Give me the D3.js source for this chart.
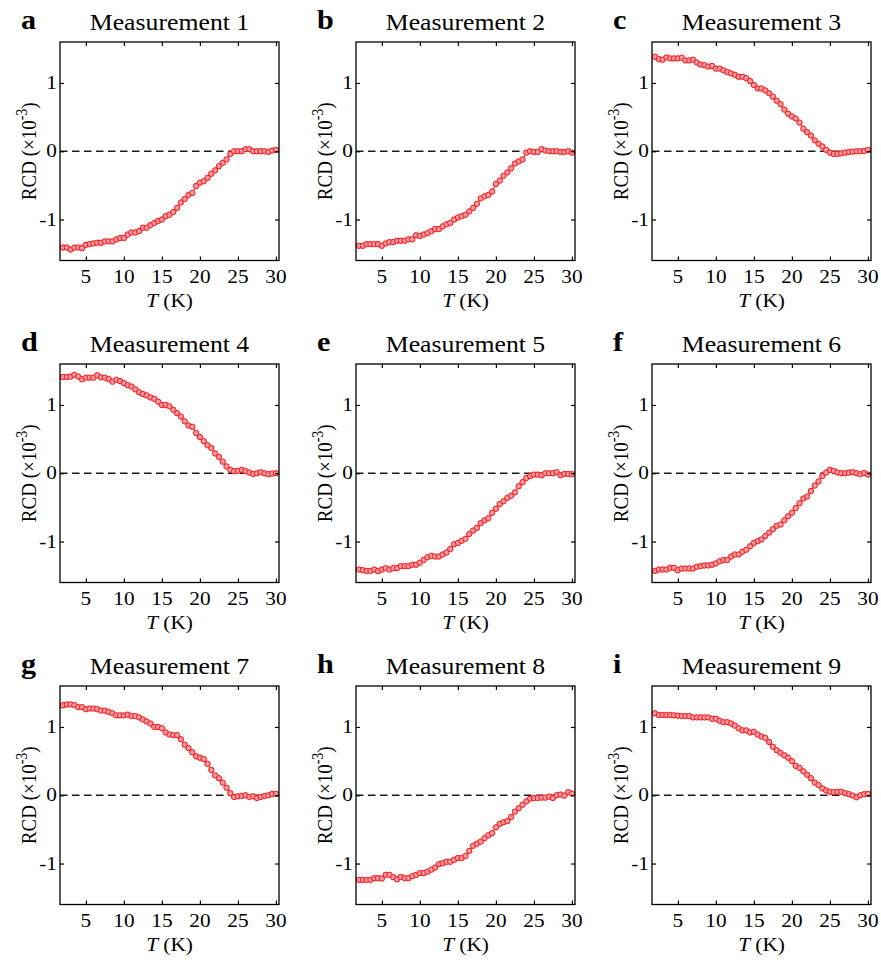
<!DOCTYPE html>
<html>
<head>
<meta charset="utf-8">
<script src="https://cdn.jsdelivr.net/npm/d3@7"></script>
<style>
  html, body { margin: 0; padding: 0; background: #fff; }
  svg { display: block; }
  text { font-family: "Liberation Serif", "Times New Roman", serif; fill: #000; }
</style>
</head>
<body>
<svg id="chart" width="881" height="960"></svg>
<script>
// ---------- data ----------
const panelLetters = ["a","b","c","d","e","f","g","h","i"];
const panelTitles = ["Measurement 1","Measurement 2","Measurement 3","Measurement 4","Measurement 5","Measurement 6","Measurement 7","Measurement 8","Measurement 9"];
const temps = [2,2.5,3,3.5,4,4.5,5,5.5,6,6.5,7,7.5,8,8.5,9,9.5,10,10.5,11,11.5,12,12.5,13,13.5,14,14.5,15,15.5,16,16.5,17,17.5,18,18.5,19,19.5,20,20.5,21,21.5,22,22.5,23,23.5,24,24.5,25,25.5,26,26.5,27,27.5,28,28.5,29,29.5,30];
const xTicks = [5,10,15,20,25,30];
const yTicks = [-1,0,1];
const yTickLabels = ["-1","0","1"];

const m1 = [-1.41,-1.41,-1.44,-1.41,-1.41,-1.42,-1.37,-1.36,-1.35,-1.34,
-1.34,-1.32,-1.32,-1.32,-1.29,-1.27,-1.27,-1.22,-1.19,-1.19,
-1.17,-1.12,-1.12,-1.08,-1.05,-1.02,-1.00,-0.95,-0.93,-0.89,
-0.83,-0.75,-0.70,-0.64,-0.61,-0.51,-0.46,-0.44,-0.39,-0.33,
-0.28,-0.22,-0.17,-0.12,-0.04,0.00,0.00,0.00,0.03,0.03,
0.00,0.00,0.00,0.00,-0.01,0.01,0.02];
const m2 = [-1.385,-1.385,-1.36,-1.36,-1.36,-1.36,-1.385,-1.35,-1.33,-1.33,
-1.31,-1.31,-1.31,-1.29,-1.29,-1.23,-1.24,-1.22,-1.20,-1.17,
-1.14,-1.14,-1.10,-1.07,-1.05,-1.00,-0.97,-0.95,-0.93,-0.88,
-0.83,-0.77,-0.69,-0.66,-0.64,-0.59,-0.48,-0.43,-0.36,-0.31,
-0.25,-0.18,-0.15,-0.12,-0.02,0.00,-0.01,-0.01,0.03,0.01,
0.00,0.00,0.00,-0.01,-0.01,0.00,-0.02];
const m3 = [1.385,1.35,1.34,1.375,1.36,1.36,1.36,1.37,1.33,1.33,
1.34,1.30,1.27,1.26,1.24,1.25,1.21,1.21,1.185,1.16,
1.14,1.12,1.09,1.09,1.07,1.03,0.97,0.92,0.92,0.89,
0.85,0.80,0.74,0.69,0.61,0.55,0.51,0.48,0.42,0.33,
0.28,0.23,0.16,0.11,0.07,0.02,-0.02,-0.04,-0.04,-0.03,
-0.02,-0.01,-0.005,0.00,0.00,0.005,0.02];
const m4 = [1.41,1.41,1.415,1.44,1.415,1.375,1.40,1.40,1.40,1.435,
1.405,1.40,1.38,1.34,1.37,1.35,1.32,1.29,1.27,1.23,
1.185,1.16,1.14,1.11,1.09,1.05,1.00,1.00,0.98,0.93,
0.88,0.83,0.76,0.70,0.68,0.59,0.53,0.47,0.41,0.37,
0.29,0.24,0.17,0.10,0.05,0.03,0.035,0.05,0.03,0.01,
-0.01,0.00,0.015,0.00,-0.015,-0.005,0.00];
const m5 = [-1.41,-1.42,-1.43,-1.43,-1.41,-1.435,-1.41,-1.39,-1.41,-1.39,
-1.39,-1.36,-1.36,-1.36,-1.34,-1.34,-1.31,-1.27,-1.23,-1.21,
-1.22,-1.22,-1.19,-1.16,-1.11,-1.04,-1.02,-0.99,-0.96,-0.89,
-0.84,-0.80,-0.73,-0.69,-0.66,-0.58,-0.52,-0.45,-0.41,-0.36,
-0.33,-0.28,-0.19,-0.13,-0.07,-0.04,-0.02,-0.02,-0.03,0.00,
0.00,0.00,0.015,-0.03,-0.01,-0.01,-0.015];
const m6 = [-1.43,-1.41,-1.41,-1.41,-1.385,-1.385,-1.42,-1.395,-1.395,-1.395,
-1.395,-1.37,-1.36,-1.35,-1.35,-1.34,-1.32,-1.29,-1.27,-1.27,
-1.22,-1.19,-1.19,-1.15,-1.12,-1.07,-1.02,-0.995,-0.97,-0.92,
-0.87,-0.82,-0.77,-0.75,-0.69,-0.63,-0.58,-0.51,-0.44,-0.37,
-0.34,-0.26,-0.18,-0.12,-0.04,0.01,0.05,0.035,0.01,0.00,
0.00,0.01,0.015,0.00,-0.015,0.005,-0.02];
const m7 = [1.317,1.33,1.33,1.32,1.29,1.29,1.26,1.27,1.27,1.26,
1.24,1.24,1.22,1.20,1.17,1.17,1.17,1.18,1.16,1.16,
1.14,1.11,1.08,1.05,1.00,1.00,0.98,0.92,0.89,0.88,
0.88,0.82,0.74,0.69,0.63,0.57,0.55,0.53,0.46,0.37,
0.29,0.25,0.185,0.11,0.03,-0.025,-0.015,-0.01,0.00,-0.025,
-0.015,-0.04,-0.025,-0.01,0.00,0.02,0.02];
const m8 = [-1.24,-1.24,-1.24,-1.24,-1.215,-1.215,-1.22,-1.165,-1.165,-1.20,
-1.23,-1.195,-1.215,-1.215,-1.185,-1.165,-1.14,-1.14,-1.12,-1.09,
-1.06,-1.01,-0.995,-0.975,-0.975,-0.945,-0.92,-0.92,-0.89,-0.815,
-0.74,-0.71,-0.68,-0.63,-0.585,-0.555,-0.47,-0.42,-0.395,-0.38,
-0.32,-0.24,-0.19,-0.14,-0.09,-0.05,-0.04,-0.04,-0.035,-0.035,
-0.02,-0.04,0.00,0.01,-0.005,0.045,0.025];
const m9 = [1.20,1.175,1.175,1.175,1.175,1.17,1.165,1.16,1.16,1.16,
1.14,1.14,1.14,1.14,1.14,1.12,1.12,1.09,1.07,1.07,
1.05,1.02,0.98,0.95,0.95,0.92,0.93,0.89,0.86,0.84,
0.78,0.71,0.66,0.62,0.585,0.55,0.50,0.43,0.40,0.35,
0.30,0.25,0.185,0.15,0.10,0.07,0.05,0.045,0.05,0.05,
0.03,0.015,-0.005,-0.03,0.00,0.015,0.02];
const seriesList = [m1,m2,m3,m4,m5,m6,m7,m8,m9];

// ---------- layout ----------
const svg = d3.select("#chart");
svg.append("rect").attr("width",881).attr("height",960).attr("fill","#fff");

const plotW = 219, plotH = 218.5;
const colX = [60, 356, 652];
const rowY = [42, 364, 686];
const SX = 1.12; // horizontal stretch of text as in the reference

function stretchedText(g, x, y, str, size, anchor, extra) {
  const t = g.append("text")
    .attr("transform", `translate(${x},${y}) scale(${SX},1)`)
    .attr("font-size", size)
    .attr("text-anchor", anchor)
    .text(str);
  if (extra) extra(t);
  return t;
}

seriesList.forEach((vals, i) => {
  const left = colX[i % 3], top = rowY[Math.floor(i / 3)];
  const x = d3.scaleLinear().domain([1.6, 30.4]).range([left, left + plotW]);
  const y = d3.scaleLinear().domain([-1.6, 1.6]).range([top + plotH, top]);
  const g = svg.append("g");

  // dashed zero line
  g.append("line")
    .attr("x1", x(1.6)).attr("x2", x(30.4))
    .attr("y1", y(0)).attr("y2", y(0))
    .attr("stroke", "#1a1a1a").attr("stroke-width", 1.5)
    .attr("stroke-dasharray", "7.5,4.5");

  const pts = temps.map((t, k) => [t, vals[k]]);

  // connecting line
  g.append("path")
    .datum(pts)
    .attr("fill", "none")
    .attr("stroke", "#ff0000")
    .attr("stroke-width", 1)
    .attr("d", d3.line().x(d => x(d[0])).y(d => y(d[1])));

  // markers
  g.selectAll("circle.m").data(pts).enter().append("circle")
    .attr("class","m")
    .attr("cx", d => x(d[0])).attr("cy", d => y(d[1]))
    .attr("r", 2.7)
    .attr("fill", "#f29aa2")
    .attr("stroke", "#ff1010")
    .attr("stroke-width", 1);

  // axes: ticks inward on all four sides
  const tickLen = 4;
  const axB = d3.axisBottom(x).tickValues(xTicks).tickSize(-tickLen).tickFormat("");
  const axT = d3.axisTop(x).tickValues(xTicks).tickSize(-tickLen).tickFormat("");
  const axL = d3.axisLeft(y).tickValues(yTicks).tickSize(-tickLen).tickFormat("");
  const axR = d3.axisRight(y).tickValues(yTicks).tickSize(-tickLen).tickFormat("");
  [[axB, `translate(0,${top + plotH})`], [axT, `translate(0,${top})`],
   [axL, `translate(${left},0)`], [axR, `translate(${left + plotW},0)`]].forEach(([ax, tr]) => {
    const a = g.append("g").attr("transform", tr).call(ax);
    a.select(".domain").remove();
    a.selectAll(".tick line").attr("stroke", "#000").attr("stroke-width", 1.2);
  });

  // box
  g.append("rect")
    .attr("x", left).attr("y", top).attr("width", plotW).attr("height", plotH)
    .attr("fill", "none").attr("stroke", "#000").attr("stroke-width", 1.3);

  // tick labels
  xTicks.forEach(v => stretchedText(g, x(v), top + plotH + 22, String(v), 19, "middle"));
  yTicks.forEach((v, k) => stretchedText(g, left - 3, y(v) + 6, yTickLabels[k], 19, "end"));

  // x label
  const xl = g.append("text")
    .attr("transform", `translate(${left + plotW / 2},${top + plotH + 46}) scale(${SX},1)`)
    .attr("font-size", 19).attr("text-anchor", "middle");
  xl.append("tspan").attr("font-style", "italic").text("T");
  xl.append("tspan").text(" (K)");

  // y label
  const yl = g.append("text")
    .attr("transform", `translate(${left - 24},${top + plotH / 2}) scale(${SX},1) rotate(-90)`)
    .attr("font-size", 19).attr("text-anchor", "middle");
  yl.append("tspan").text("RCD (×10");
  yl.append("tspan").attr("font-size", 14).attr("dy", -8).text("-3");
  yl.append("tspan").attr("dy", 8).text(")");

  // title
  stretchedText(g, left + plotW / 2, top - 12, panelTitles[i], 23, "middle");
  // panel letter
  stretchedText(g, left - 39, top - 13, panelLetters[i], 27, "start", t => t.attr("font-weight", "bold"));
});
</script>
</body>
</html>
